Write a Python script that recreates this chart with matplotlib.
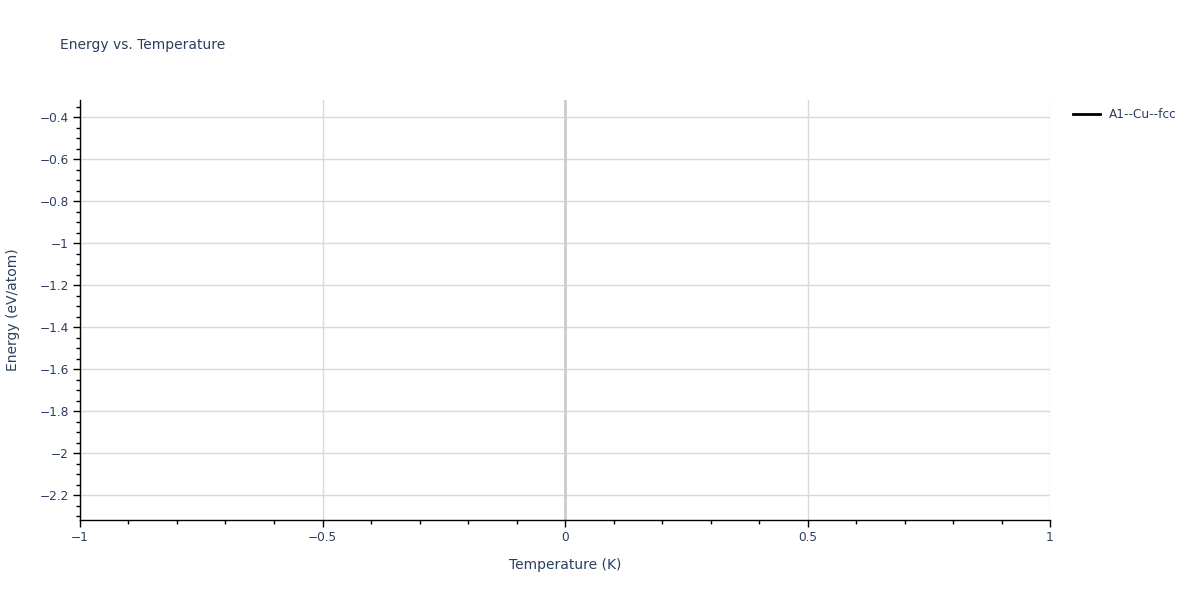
import matplotlib
matplotlib.use("Agg")
import matplotlib.pyplot as plt
from matplotlib.ticker import MultipleLocator, FuncFormatter

plt.rcParams['font.family'] = ['DejaVu Sans']

# data: a single point, line mode (nothing visible)
temperature = [0.0]
energy = [-1.319]
label = "A1--Cu--fcc"

x_range = (-1, 1)
y_range = (-2.319, -0.319)

txt = '#2a3f5f'

fig = plt.figure(figsize=(12, 6), dpi=100)
ax = fig.add_axes([80/1200, 1 - 520/600, 970/1200, 420/600])

ax.plot(temperature, energy, color='black', lw=2, label=label)

ax.set_xlim(*x_range)
ax.set_ylim(*y_range)

ax.xaxis.set_major_locator(MultipleLocator(0.5))
ax.xaxis.set_minor_locator(MultipleLocator(0.1))
ax.yaxis.set_major_locator(MultipleLocator(0.2))
ax.yaxis.set_minor_locator(MultipleLocator(0.05))

def fmt(v, pos):
    s = ('%.2f' % v).rstrip('0').rstrip('.')
    if s in ('-0', '0'):
        return '0'
    return s.replace('-', '\u2212')

ax.xaxis.set_major_formatter(FuncFormatter(fmt))
ax.yaxis.set_major_formatter(FuncFormatter(fmt))

ax.grid(True, which='major', color='#d9d9d9', lw=1)
ax.axvline(0, color='#cccccc', lw=2, zorder=1)
ax.set_axisbelow(True)

for s in ['top', 'right']:
    ax.spines[s].set_visible(False)
for s in ['left', 'bottom']:
    ax.spines[s].set_color('black')
    ax.spines[s].set_linewidth(1)

ax.tick_params(which='major', direction='out', length=5, width=1, color='black',
               labelcolor=txt, labelsize=8.7, pad=3)
ax.tick_params(which='minor', direction='out', length=3, width=1, color='black')

ax.set_xlabel('Temperature (K)', color=txt, fontsize=10, labelpad=10)
ax.set_ylabel('Energy (eV/atom)', color=txt, fontsize=10, labelpad=14)

fig.text(60/1200, 1 - 45/600, 'Energy vs. Temperature', color=txt, fontsize=10,
         va='center', ha='left')

leg = ax.legend(loc='upper left', bbox_to_anchor=(1.015, 1.0), frameon=False,
                fontsize=8.7, handlelength=2.2, labelcolor=txt, borderaxespad=0.3)

fig.savefig('out.png', dpi=100)
